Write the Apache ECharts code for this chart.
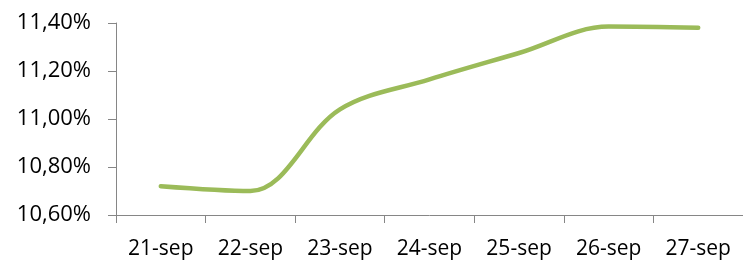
<!DOCTYPE html>
<html>
<head>
<meta charset="utf-8">
<script src="https://cdn.jsdelivr.net/npm/echarts@6/dist/echarts.min.js"></script>
<style>
  html, body { margin: 0; padding: 0; background: #fff; }
  #chart { width: 743px; height: 260px; }
</style>
</head>
<body>
<div id="chart"></div>
<script>
// dagen en rentestand (%)
let days = ['21-sep', '22-sep', '23-sep', '24-sep', '25-sep', '26-sep', '27-sep']
let rates = [10.72, 10.70, 11.04, 11.165, 11.275, 11.385, 11.38]
let yTicks = [10.6, 10.8, 11.0, 11.2, 11.4]

let chart = echarts.init(document.getElementById('chart'), null, { renderer: 'canvas' })

let font = 'Open Sans, Liberation Sans, sans-serif'

let option = {
  animation: false,
  grid: { left: 116, top: 23, bottom: 45, width: 633 },
  xAxis: {
    type: 'category',
    data: days,
    boundaryGap: true,
    axisLine: { lineStyle: { color: '#868686', width: 1 } },
    axisTick: { show: true, length: 8, lineStyle: { color: '#868686' } },
    axisLabel: { color: '#000', fontSize: 21, fontFamily: font, margin: 24 }
  },
  yAxis: {
    type: 'value',
    min: yTicks[0],
    max: yTicks[yTicks.length - 1],
    interval: 0.2,
    splitLine: { show: false },
    axisLine: { show: true, lineStyle: { color: '#868686', width: 1 } },
    axisTick: { show: true, length: 8, lineStyle: { color: '#868686' } },
    axisLabel: {
      color: '#000', fontSize: 22, fontFamily: font, margin: 25,
      formatter: v => v.toFixed(2).replace('.', ',') + '%'
    }
  },
  series: [{
    type: 'line',
    data: rates,
    smooth: 0.35,
    symbol: 'none',
    lineStyle: { color: '#9BBB59', width: 4.5, cap: 'round' }
  }]
}
chart.setOption(option)
</script>
</body>
</html>
